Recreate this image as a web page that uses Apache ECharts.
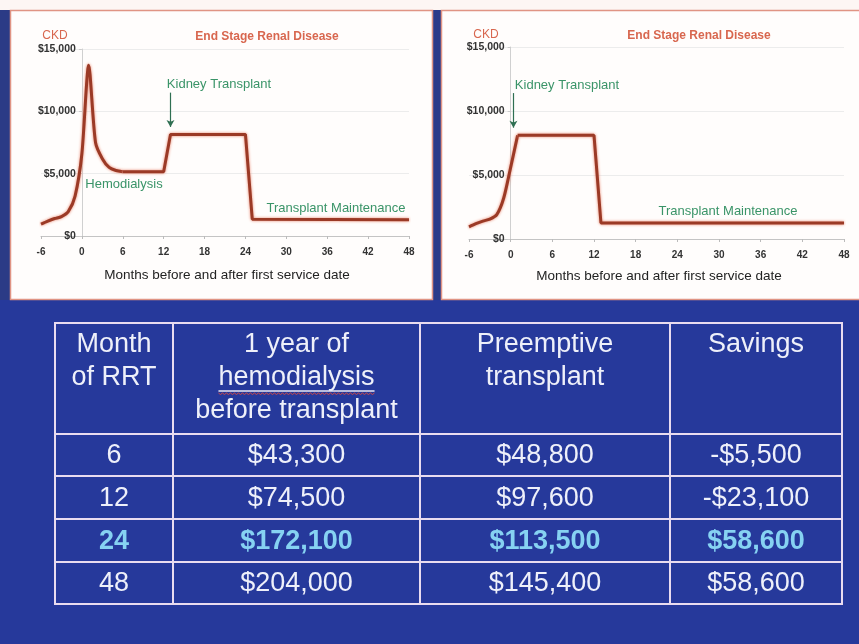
<!DOCTYPE html>
<html><head><meta charset="utf-8">
<script src="https://cdn.jsdelivr.net/npm/echarts@6/dist/echarts.min.js"></script>
<style>html,body{margin:0;padding:0;background:#26399b;}#c{width:859px;height:644px;}</style>
</head><body><div id="c"></div><script>
// ---------- data ----------
const monthMin = -6, monthMax = 48, monthStep = 6;
const costMax = 15000, costStep = 5000;
// Left chart: dialysis first, then transplant
const hdRampMonths = [-6, -5, -4, -3, -2, -1, 0, 1, 2, 3, 4, 5, 6];
const hdRampCost   = [950, 1200, 1400, 1550, 1950, 3200, 6600, 13700, 7500, 6200, 5500, 5250, 5150];
const hdPlateauMonths = [6, 12, 13, 24, 25, 48];
const hdPlateauCost   = [5150, 5150, 8150, 8150, 1350, 1300];
// Right chart: preemptive transplant
const ptRampMonths = [-6, -5, -4, -3, -2, -1, 0, 1];
const ptRampCost   = [950, 1200, 1400, 1550, 1900, 3200, 5600, 8100];
const ptPlateauMonths = [1, 12, 13, 48];
const ptPlateauCost   = [8100, 8100, 1250, 1250];
// Table
const tableHeaders = ['Month\nof RRT', '1 year of\nhemodialysis\nbefore transplant', 'Preemptive\ntransplant', 'Savings'];
const rrtMonths  = [6, 12, 24, 48];
const hemoFirst  = [43300, 74500, 172100, 204000];
const preemptive = [48800, 97600, 113500, 145400];
const savings    = [-5500, -23100, 58600, 58600];
const highlightMonth = 24;

// ---------- layout / style ----------
const FONT = '"Liberation Sans", Arial, sans-serif';
const lineCol = '#9b3a26', haloCol = '#e8826a';
const green = '#3a9468', salmon = '#d8674f';
const colEdges = [55, 173, 420, 670, 842];
const rowEdges = [323, 434, 476, 519, 562, 604];
const tableFont = 27, headerLH = 33;
const grids = [
  { left: 41, right: 450, top: 49, height: 187 },
  { left: 469, right: 15, top: 47, height: 192 }
];

function money(v) {
  const s = '$' + Math.abs(v).toLocaleString('en-US');
  return v < 0 ? '-' + s : s;
}
function pairs(xs, ys) { return xs.map((x, i) => [x, ys[i]]); }

function mkAxes(gridIndex) {
  const gr = grids[gridIndex];
  const w = 859 - gr.left - gr.right;
  const zeroOffset = -(0 - monthMin) / (monthMax - monthMin) * w; // y axis drawn at month 0
  return {
    x: {
      type: 'value', gridIndex, min: monthMin, max: monthMax, interval: monthStep,
      axisLine: { onZero: true, lineStyle: { color: '#c4c4c4', width: 1 } },
      axisTick: { show: true, length: 3, lineStyle: { color: '#bbb' } },
      splitLine: { show: false },
      axisLabel: { color: '#333', fontSize: 10, fontWeight: 'bold', fontFamily: FONT, margin: 11,
                   showMinLabel: true, showMaxLabel: true }
    },
    y: {
      type: 'value', gridIndex, min: 0, max: costMax, interval: costStep, offset: zeroOffset,
      axisLine: { show: true, onZero: false, lineStyle: { color: '#d0d0d0' } },
      axisTick: { show: true, length: 3, lineStyle: { color: '#ccc' } },
      splitLine: { show: true, lineStyle: { color: '#ececec' } },
      axisLabel: { color: '#333', fontSize: 10.5, fontWeight: 'bold', fontFamily: FONT, margin: 6,
                   formatter: v => money(v) }
    }
  };
}
const a0 = mkAxes(0), a1 = mkAxes(1);

const lineStyle = { color: lineCol, width: 3, shadowColor: haloCol, shadowBlur: 3 };
function lineSeries(idx, data, smooth, markLine) {
  const s = {
    type: 'line', xAxisIndex: idx, yAxisIndex: idx, data, smooth, showSymbol: false,
    symbol: 'none', lineStyle, z: 5, silent: true
  };
  if (markLine) s.markLine = markLine;
  return s;
}
function arrow(x, yFrom, yTo) {
  return {
    silent: true, symbol: ['none', 'arrow'], symbolSize: [6, 7],
    lineStyle: { color: '#2f6f52', width: 1.2, type: 'solid' }, label: { show: false },
    data: [[{ coord: [x, yFrom] }, { coord: [x, yTo] }]]
  };
}

// ---------- graphics ----------
const g = [];
g.push({ type: 'rect', z: -10, shape: { x: 0, y: 0, width: 859, height: 10 }, style: { fill: '#fdf6f4' } });
g.push({ type: 'rect', z: -10, shape: { x: 0, y: 10, width: 10, height: 290 }, style: { fill: '#2b3b86' } });
g.push({ type: 'rect', z: -10, shape: { x: 433, y: 10, width: 8, height: 290 }, style: { fill: '#2b3b8a' } });
g.push({ type: 'rect', z: -9, shape: { x: 10.5, y: 10.5, width: 422, height: 289 }, style: { fill: '#fffdfc', stroke: '#e09484', lineWidth: 1.5 } });
g.push({ type: 'rect', z: -9, shape: { x: 441.5, y: 10.5, width: 420, height: 289 }, style: { fill: '#fffdfc', stroke: '#e09484', lineWidth: 1.5 } });

function txt(text, x, y, opts) {
  g.push({ type: 'text', z: 20, x, y, style: Object.assign({ text, fill: '#222', font: '13px ' + FONT, align: 'center', verticalAlign: 'middle' }, opts || {}) });
}
// left chart labels
txt('CKD', 55, 36, { fill: salmon, font: '12px ' + FONT });
txt('End Stage Renal Disease', 267, 37, { fill: salmon, font: 'bold 12px ' + FONT });
txt('Kidney Transplant', 219, 84, { fill: green });
txt('Hemodialysis', 124, 184, { fill: green });
txt('Transplant Maintenance', 336, 208, { fill: green });
txt('Months before and after first service date', 227, 275, { fill: '#222', font: '13.5px ' + FONT });
// right chart labels
txt('CKD', 486, 35, { fill: salmon, font: '12px ' + FONT });
txt('End Stage Renal Disease', 699, 36, { fill: salmon, font: 'bold 12px ' + FONT });
txt('Kidney Transplant', 567, 85, { fill: green });
txt('Transplant Maintenance', 728, 211, { fill: green });
txt('Months before and after first service date', 659, 276, { fill: '#222', font: '13.5px ' + FONT });

// table
const tLine = '#e9dcf0';
for (let r = 0; r < rowEdges.length - 1; r++) {
  for (let c = 0; c < colEdges.length - 1; c++) {
    g.push({ type: 'rect', z: 15, shape: { x: colEdges[c], y: rowEdges[r], width: colEdges[c + 1] - colEdges[c], height: rowEdges[r + 1] - rowEdges[r] },
             style: { fill: 'none', stroke: tLine, lineWidth: 2 } });
  }
}
const colCenter = c => (colEdges[c] + colEdges[c + 1]) / 2;
tableHeaders.forEach((h, c) => {
  g.push({ type: 'text', z: 20, x: colCenter(c), y: 328, style: { text: h, fill: '#eef0fa', font: tableFont + 'px ' + FONT, align: 'center', verticalAlign: 'top', lineHeight: headerLH } });
});
// underline on "hemodialysis" (with spell-check squiggle)
(function () {
  const ctx = document.createElement('canvas').getContext('2d');
  ctx.font = tableFont + 'px "Liberation Sans"';
  const w = ctx.measureText('hemodialysis').width;
  const cx = colCenter(1), y = 391;
  g.push({ type: 'line', z: 20, shape: { x1: cx - w / 2, y1: y, x2: cx + w / 2, y2: y }, style: { stroke: '#e8e8f4', lineWidth: 1.5 } });
  const pts = [];
  for (let x = cx - w / 2, i = 0; x <= cx + w / 2; x += 2, i++) pts.push([x, y + 2 + (i % 2 ? 1.5 : 0)]);
  g.push({ type: 'polyline', z: 20, shape: { points: pts }, style: { stroke: '#d04848', lineWidth: 1, fill: 'none' } });
})();
rrtMonths.forEach((m, r) => {
  const hl = m === highlightMonth;
  const cells = [String(m), money(hemoFirst[r]), money(preemptive[r]), money(savings[r])];
  const cy = (rowEdges[r + 1] + rowEdges[r + 2]) / 2;
  cells.forEach((t, c) => {
    g.push({ type: 'text', z: 20, x: colCenter(c), y: cy + 1, style: { text: t, fill: hl ? '#86d2f2' : '#eef0fa', font: (hl ? 'bold ' : '') + tableFont + 'px ' + FONT, align: 'center', verticalAlign: 'middle' } });
  });
});

const chart = echarts.init(document.getElementById('c'), null, { renderer: 'canvas' });
chart.setOption({
  backgroundColor: '#26399b',
  animation: false,
  grid: grids.map(gr => Object.assign({ containLabel: false, outerBoundsMode: 'none' }, gr)),
  xAxis: [a0.x, a1.x],
  yAxis: [a0.y, a1.y],
  series: [
    lineSeries(0, pairs(hdRampMonths, hdRampCost), 0.25),
    lineSeries(0, pairs(hdPlateauMonths, hdPlateauCost), false, arrow(13, 11500, 8750)),
    lineSeries(1, pairs(ptRampMonths, ptRampCost), 0.25),
    lineSeries(1, pairs(ptPlateauMonths, ptPlateauCost), false, arrow(0.4, 11400, 8700))
  ],
  graphic: { elements: g }
});
</script></body></html>
